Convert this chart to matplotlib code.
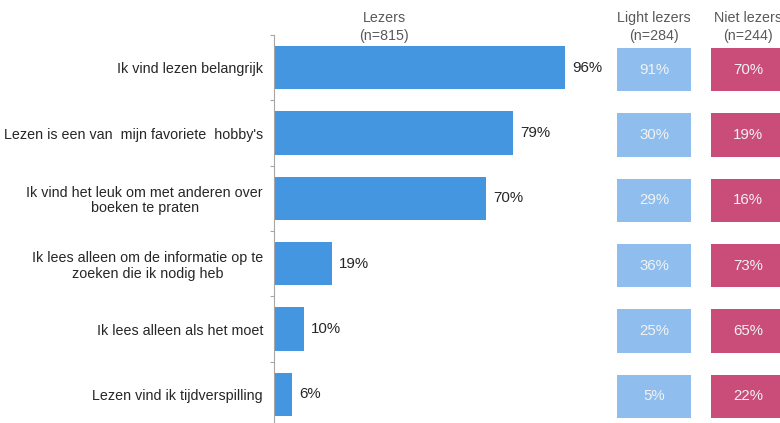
import matplotlib
matplotlib.use("Agg")
import matplotlib.pyplot as plt

plt.rcParams['font.family'] = ['Liberation Sans', 'DejaVu Sans']

statements = [
    "Ik vind lezen belangrijk",
    "Lezen is een van  mijn favoriete  hobby's",
    "Ik vind het leuk om met anderen over\nboeken te praten",
    "Ik lees alleen om de informatie op te\nzoeken die ik nodig heb",
    "Ik lees alleen als het moet",
    "Lezen vind ik tijdverspilling",
]
lezers = [96, 79, 70, 19, 10, 6]
light_lezers = [91, 30, 29, 36, 25, 5]
niet_lezers = [70, 19, 16, 73, 65, 22]

headers = ["Lezers\n(n=815)", "Light lezers\n(n=284)", "Niet lezers\n(n=244)"]

blue = '#4596E0'
light_blue = '#8FBEEE'
pink = '#CA4C78'
grey_text = '#595959'
fs = 10.3

W, H = 780, 423
fig = plt.figure(figsize=(W / 100, H / 100), dpi=100)


def px_axes(x0, y0, w, h):
    # pixel box measured from the top-left corner
    return fig.add_axes([x0 / W, 1 - (y0 + h) / H, w / W, h / H])


n = len(statements)
ypos = list(range(n))

# main bar panel
ax = px_axes(274, 35, 303, 392)
ax.barh(ypos, lezers, height=0.66, color=blue)
ax.set_xlim(0, 100)
ax.set_ylim(n - 0.5, -0.5)
for y, v in zip(ypos, lezers):
    ax.text(v + 2.3, y, f"{v}%", va='center', ha='left', fontsize=10.8, color='#262626')
ax.set_yticks([i - 0.5 for i in range(n + 1)])
ax.set_yticklabels([])
ax.set_yticks(ypos, minor=True)
ax.set_yticklabels(statements, minor=True, fontsize=fs, color='#262626',
                   multialignment='center', linespacing=1.15)
ax.tick_params(axis='y', which='major', length=3, color='#A6A6A6', direction='out')
ax.tick_params(axis='y', which='minor', length=0, pad=8)
ax.set_xticks([])
for s in ['top', 'right', 'bottom']:
    ax.spines[s].set_visible(False)
ax.spines['left'].set_color('#A6A6A6')
ax.text(0.363, 1.0 + 8 / 392, headers[0], transform=ax.transAxes, ha='center',
        va='center', fontsize=fs, color=grey_text, linespacing=1.4)

# box columns for the other two groups
for x0, vals, col, head in [(617, light_lezers, light_blue, headers[1]),
                             (711, niet_lezers, pink, headers[2])]:
    bx = px_axes(x0, 37, 74, 392)
    bx.barh(ypos, [1] * n, height=0.66, color=col)
    bx.set_xlim(0, 1)
    bx.set_ylim(n - 0.5, -0.5)
    for y, v in zip(ypos, vals):
        bx.text(0.5, y, f"{v}%", ha='center', va='center', fontsize=10.8,
                color='#F2F2F2')
    bx.axis('off')
    bx.text(0.5, 1.0 + 10 / 392, head, transform=bx.transAxes, ha='center',
            va='center', fontsize=fs, color=grey_text, linespacing=1.4)

fig.savefig('out.png', dpi=100)
